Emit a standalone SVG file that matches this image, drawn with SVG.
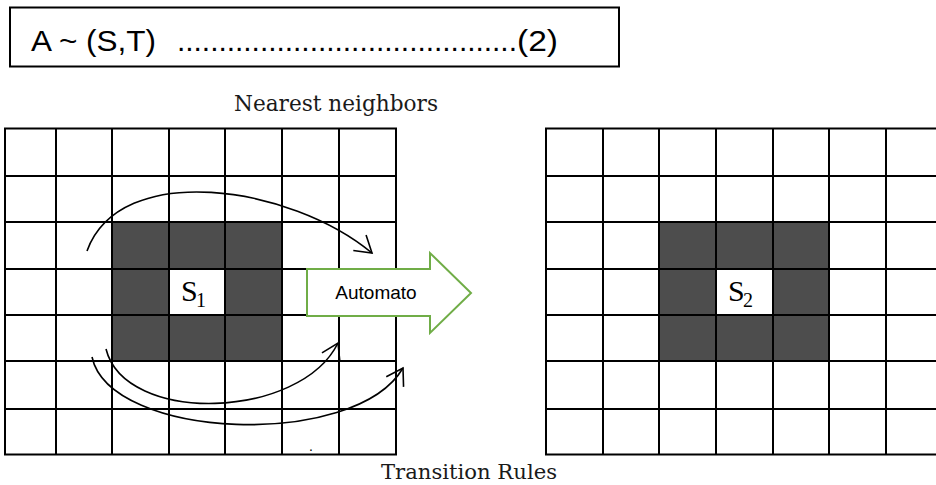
<svg xmlns="http://www.w3.org/2000/svg" width="936" height="485" viewBox="0 0 936 485">
<defs>
<style>
.grid{fill:none;stroke:#000;stroke-width:2}
.dark{fill:#4d4d4d}
.cellw{fill:#fff}
.conn{fill:none;stroke:#000;stroke-width:1.6}
.serif{font-family:"Liberation Serif","DejaVu Serif",serif;fill:#000}
.cap{font-family:"DejaVu Serif","Liberation Serif",serif;fill:#1a1a1a}
.sans{font-family:"Liberation Sans",Arial,sans-serif;fill:#000}
</style>
<marker id="vhead" markerUnits="userSpaceOnUse" markerWidth="24" markerHeight="24" viewBox="-20 -12 24 24" refX="0" refY="0" orient="auto">
<path d="M-16,-10 L0,0 L-16,10" fill="none" stroke="#000" stroke-width="1.6"/>
</marker>
</defs>
<rect width="936" height="485" fill="#fff"/>

<g id="formula">
<rect x="10" y="7.5" width="609" height="59" fill="#fff" stroke="#000" stroke-width="2"/>
<text class="sans" font-size="30" y="51"><tspan x="31" textLength="125" lengthAdjust="spacingAndGlyphs">A ~ (S,T)</tspan><tspan x="177" textLength="340" lengthAdjust="spacing">.........................................</tspan><tspan x="517" textLength="41" lengthAdjust="spacingAndGlyphs">(2)</tspan></text>
</g>

<g id="label-nearest">
<text class="cap" x="336" y="111" font-size="22" text-anchor="middle" textLength="204" lengthAdjust="spacingAndGlyphs">Nearest neighbors</text>
</g>

<g id="grid-s1">
<rect class="dark" x="112" y="222" width="170" height="139"/>
<rect class="cellw" x="169" y="269" width="56" height="46"/>
<rect class="grid" x="5" y="128.5" width="391" height="326"/>
<path class="grid" d="M56,128.5V454.5M112,128.5V454.5M169,128.5V454.5M225,128.5V454.5M282,128.5V454.5M339,128.5V454.5M5,176H396M5,222H396M5,269H396M5,315H396M5,361H396M5,409H396"/>
<text class="serif" x="181" y="301" font-size="30">S</text>
<text class="serif" x="196" y="307" font-size="20">1</text>
<text class="sans" x="309" y="451" font-size="14">.</text>
</g>

<g id="grid-s2">
<rect class="dark" x="659" y="222" width="170" height="139"/>
<rect class="cellw" x="716" y="269" width="57" height="46"/>
<path class="grid" d="M546,128.5V454.5M603,128.5V454.5M659,128.5V454.5M716,128.5V454.5M773,128.5V454.5M829,128.5V454.5M886,128.5V454.5M545,128.5H936M545,176H936M545,222H936M545,269H936M545,315H936M545,361H936M545,409H936M545,454.5H936"/>
<text class="serif" x="728" y="301" font-size="30">S</text>
<text class="serif" x="743" y="307" font-size="20">2</text>
</g>

<g id="connectors">
<path class="conn" d="M87,251 C120,160 290,185 372,253" marker-end="url(#vhead)"/>
<path class="conn" d="M106,349 C125,425 300,420 338,343" marker-end="url(#vhead)"/>
<path class="conn" d="M92,357 C110,440 355,450 403,368" marker-end="url(#vhead)"/>
</g>

<g id="automato">
<polygon points="307,269 430,269 430,253 471,293 430,333 430,316 307,316" fill="#fff" stroke="#70ad47" stroke-width="2"/>
<text class="sans" x="376" y="299" font-size="19" text-anchor="middle">Automato</text>
</g>

<g id="label-transition">
<text class="cap" x="469" y="479" font-size="21" text-anchor="middle" textLength="176" lengthAdjust="spacingAndGlyphs">Transition Rules</text>
</g>
</svg>
